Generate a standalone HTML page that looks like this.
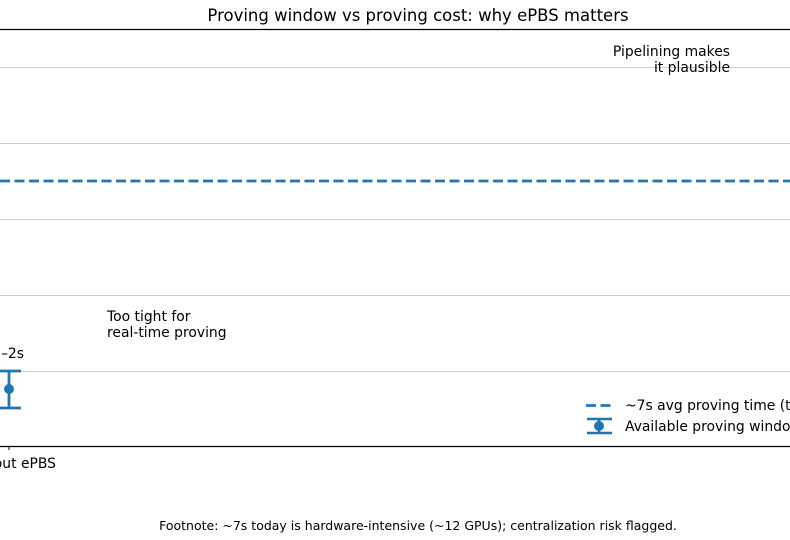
<!DOCTYPE html>
<html><head><style>
body{margin:0;background:#fff;}
svg{display:block;font-family:"DejaVu Sans","Liberation Sans",sans-serif;}
</style></head><body>
<svg width="790" height="540" viewBox="0 0 790 540">
<rect width="790" height="540" fill="#fff"/>
<text x="418" y="21" font-size="16.5" text-anchor="middle" fill="#000">Proving window vs proving cost: why ePBS matters</text>
<g stroke="#cccccc" stroke-width="1">
<line x1="0" y1="67.5" x2="790" y2="67.5"/>
<line x1="0" y1="143.5" x2="790" y2="143.5"/>
<line x1="0" y1="219.5" x2="790" y2="219.5"/>
<line x1="0" y1="295.5" x2="790" y2="295.5"/>
<line x1="0" y1="371.5" x2="790" y2="371.5"/>
</g>
<line x1="0" y1="29.5" x2="790" y2="29.5" stroke="#000" stroke-width="1.2"/>
<line x1="0" y1="446.5" x2="790" y2="446.5" stroke="#000" stroke-width="1.2"/>
<line x1="0" y1="181" x2="790" y2="181" stroke="#1f77b4" stroke-width="2.8" stroke-dasharray="10,4.5"/>
<g stroke="#1f77b4" stroke-width="2.8">
<line x1="9" y1="371" x2="9" y2="408"/>
<line x1="-3" y1="371" x2="21" y2="371"/>
<line x1="-3" y1="408" x2="21" y2="408"/>
</g>
<circle cx="9" cy="389" r="5" fill="#1f77b4"/>
<line x1="9" y1="446" x2="9" y2="450" stroke="#000"/>
<text x="56" y="468" font-size="13.9" text-anchor="end">hout ePBS</text>
<text x="24" y="358" font-size="13.9" text-anchor="end">1–2s</text>
<text x="107" y="321" font-size="13.9">Too tight for</text>
<text x="107" y="337" font-size="13.9">real-time proving</text>
<text x="730" y="56" font-size="13.9" text-anchor="end">Pipelining makes</text>
<text x="730" y="72" font-size="13.9" text-anchor="end">it plausible</text>
<line x1="586" y1="405.5" x2="612" y2="405.5" stroke="#1f77b4" stroke-width="2.8" stroke-dasharray="10,4.5"/>
<g stroke="#1f77b4" stroke-width="2.5">
<line x1="599" y1="419" x2="599" y2="433"/>
<line x1="587" y1="419" x2="612" y2="419"/>
<line x1="587" y1="433" x2="612" y2="433"/>
</g>
<circle cx="599" cy="426" r="5" fill="#1f77b4"/>
<text x="625" y="410" font-size="13.9">~7s avg proving time (t</text>
<text x="625" y="431" font-size="13.9">Available proving windo</text>
<text x="418" y="530" font-size="12.5" text-anchor="middle">Footnote: ~7s today is hardware-intensive (~12 GPUs); centralization risk flagged.</text>
</svg>
</body></html>
